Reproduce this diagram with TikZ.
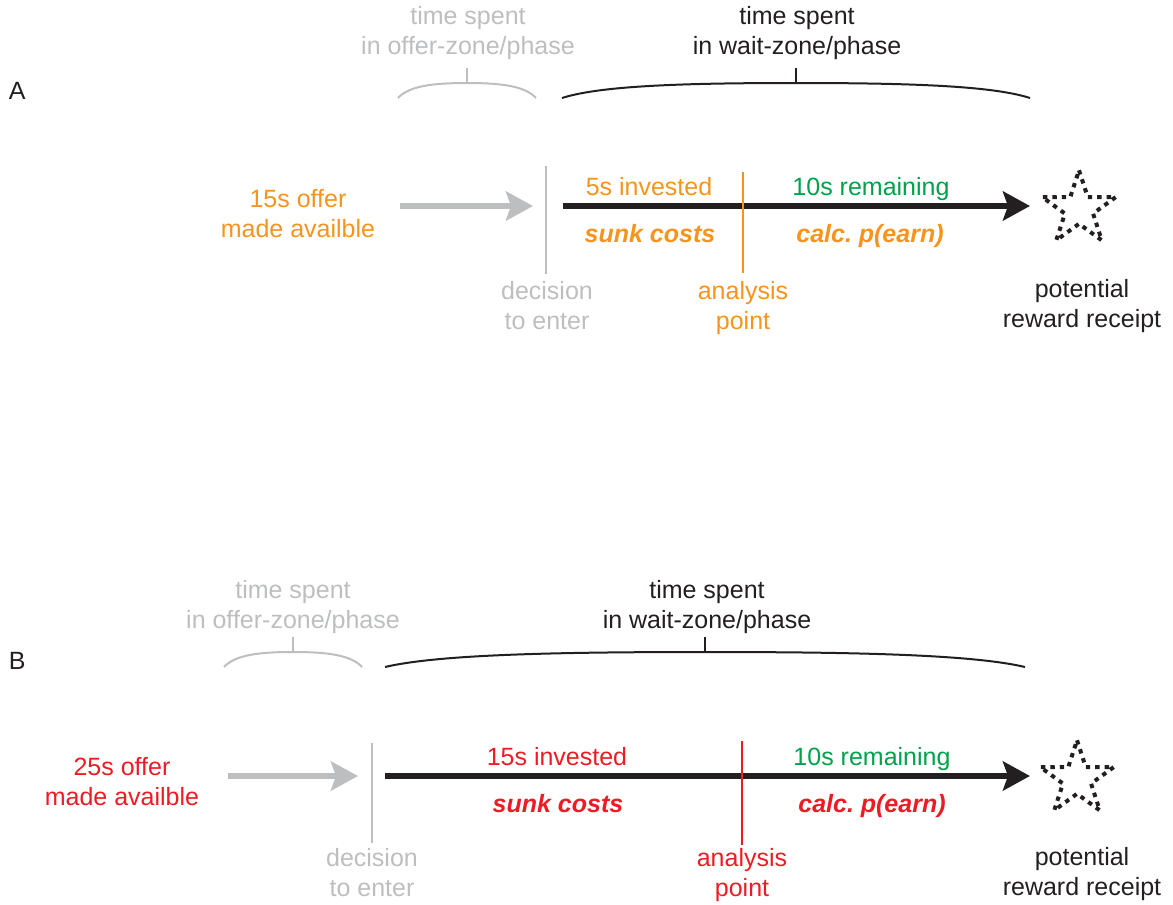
\documentclass[tikz,border=0pt]{standalone}
\usepackage{fontspec}
\setmainfont{Liberation Sans}
\usetikzlibrary{arrows.meta,calc}
\definecolor{ink}{HTML}{231F20}
\definecolor{lgray}{HTML}{BCBEC0}
\definecolor{orng}{HTML}{F7941D}
\definecolor{grn}{HTML}{00A14B}
\definecolor{rd}{HTML}{ED1C24}
\frenchspacing
\newcommand{\tbrace}[4]{%
  \draw[#1] (#2,#4) .. controls ({#2+0.08*(#3-#2)},{#4-12}) and ({#2+0.25*(#3-#2)},{#4-15}) .. ({(#2+#3)/2},{#4-15})
    .. controls ({#3-0.25*(#3-#2)},{#4-15}) and ({#3-0.08*(#3-#2)},{#4-12}) .. (#3,#4);
  \draw[#1] ({(#2+#3)/2},{#4-15}) -- ({(#2+#3)/2},{#4-30});}
\newcommand{\dottedstar}[1]{%
  \draw[starline] ($(#1)+(270:38.7)$) -- ($(#1)+(306:14.8)$) -- ($(#1)+(342:38.7)$) -- ($(#1)+(18:14.8)$)
   -- ($(#1)+(54:38.7)$) -- ($(#1)+(90:14.8)$) -- ($(#1)+(126:38.7)$) -- ($(#1)+(162:14.8)$)
   -- ($(#1)+(198:38.7)$) -- ($(#1)+(234:14.8)$) -- cycle;}
\begin{document}
\begin{tikzpicture}[x=0.5pt,y=-0.5pt,
  txt/.style={inner sep=0pt, outer sep=0pt, font=\fontsize{12.5}{14.75}\selectfont, align=center, anchor=base},
  emph/.style={txt, font=\fontsize{12.5}{14.75}\selectfont\bfseries\itshape},
  bar/.style={line width=1pt},
  timeline/.style={line width=3pt, -{Stealth[length=13.5pt,width=14.5pt,inset=2.5pt]}},
  bracestyle/.style={line width=1pt},
  starline/.style={line width=2pt, dash pattern=on 2.2pt off 2.5pt, ink}
]
\useasboundingbox (0,0) rectangle (1173,905);

% ---------------- Panel A ----------------
% (base anchor of a two-line node = baseline of its last line)
\node[txt, anchor=base west, ink] (labA) at (9,99) {A};
\node[txt, lgray] (offzA) at (468,54) {time spent\\in offer-zone/phase};
\node[txt, ink] (waitzA) at (797,54) {time spent\\in wait-zone/phase};
\node[txt, orng] (offerA) at (298,237) {15s offer\\made availble};
\node[txt, lgray] (decA) at (547,329) {decision\\to enter};
\node[txt, orng] (anaA) at (743,329) {analysis\\point};
\node[txt, ink] (rewA) at (1082,327) {potential\\reward receipt};
\node[txt, orng] (invA) at (649,195) {5s invested};
\node[emph, orng] (sunkA) at (650,242) {sunk costs};
\node[txt, grn] (remA) at (871,195) {10s remaining};
\node[emph, orng] (calcA) at (870,242) {calc. p(earn)};

\tbrace{bracestyle, lgray}{398}{536}{98}
\tbrace{bracestyle, ink}{562}{1030}{98}

\coordinate (gA0) at (400,206); \coordinate (gA1) at (533,206);
\coordinate (dA0) at (546,166); \coordinate (dA1) at (546,274);
\coordinate (bA0) at (563,206); \coordinate (bA1) at (1030,206);
\coordinate (aA0) at (743,172); \coordinate (aA1) at (743,273);
\coordinate (sA) at (1079,209);
\draw[timeline, lgray] (gA0) -- (gA1);
\draw[bar, lgray] (dA0) -- (dA1);
\draw[timeline, ink] (bA0) -- (bA1);
\draw[bar, orng] (aA0) -- (aA1);
\dottedstar{sA}

% ---------------- Panel B ----------------
\node[txt, anchor=base west, ink] (labB) at (9,669) {B};
\node[txt, lgray] (offzB) at (293,628) {time spent\\in offer-zone/phase};
\node[txt, ink] (waitzB) at (707,628) {time spent\\in wait-zone/phase};
\node[txt, rd] (offerB) at (122,805) {25s offer\\made availble};
\node[txt, lgray] (decB) at (372,896) {decision\\to enter};
\node[txt, rd] (anaB) at (742,896) {analysis\\point};
\node[txt, ink] (rewB) at (1082,895) {potential\\reward receipt};
\node[txt, rd] (invB) at (557,765) {15s invested};
\node[emph, rd] (sunkB) at (558,812) {sunk costs};
\node[txt, grn] (remB) at (872,765) {10s remaining};
\node[emph, rd] (calcB) at (872,812) {calc. p(earn)};

\tbrace{bracestyle, lgray}{224}{362}{667}
\tbrace{bracestyle, ink}{385}{1025}{667}

\coordinate (gB0) at (228,776); \coordinate (gB1) at (358,776);
\coordinate (dB0) at (372,743); \coordinate (dB1) at (372,843);
\coordinate (bB0) at (385,776); \coordinate (bB1) at (1030,776);
\coordinate (aB0) at (742,741); \coordinate (aB1) at (742,845);
\coordinate (sB) at (1077,779);
\draw[timeline, lgray] (gB0) -- (gB1);
\draw[bar, lgray] (dB0) -- (dB1);
\draw[timeline, ink] (bB0) -- (bB1);
\draw[bar, rd] (aB0) -- (aB1);
\dottedstar{sB}
\end{tikzpicture}
\end{document}
